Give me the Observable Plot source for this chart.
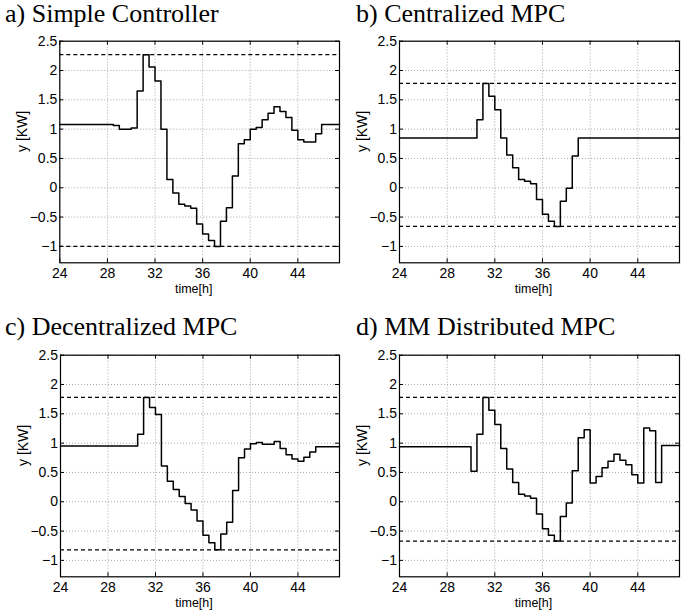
<!DOCTYPE html>
<html><head><meta charset="utf-8">
<script src="https://cdn.jsdelivr.net/npm/d3@7"></script>
<script src="https://cdn.jsdelivr.net/npm/@observablehq/plot@0.6"></script>
<style>
body{margin:0;background:#fff;}
#root{position:relative;width:697px;height:616px;overflow:hidden;background:#fff;}
.ttl{position:absolute;font-family:'Liberation Serif','Times New Roman',Times,'DejaVu Serif',serif;font-size:26px;line-height:30px;white-space:nowrap;color:#000;}
.panel{position:absolute;}
.panel svg{background:transparent !important;}
</style></head><body><div id="root"></div>
<script>
const xTicks = [24, 28, 32, 36, 40, 44];
const yTicks = [-1, -0.5, 0, 0.5, 1, 1.5, 2, 2.5];
const titles = ["a) Simple Controller", "b) Centralized MPC", "c) Decentralized MPC", "d) MM Distributed MPC"];

const tA = [24, 28.5, 29, 30, 30.5, 31, 31.5, 32, 32.5, 33, 33.5, 34, 34.5, 35, 35.5, 36, 36.5, 37, 37.5, 38, 38.5, 39, 39.5, 40, 40.5, 41, 41.5, 42, 42.5, 43, 43.5, 44, 44.5, 45.5, 46, 47.5];
const yA = [1.08, 1.06, 1.0, 1.02, 1.65, 2.27, 2.06, 1.82, 1.0, 0.14, -0.09, -0.28, -0.31, -0.35, -0.62, -0.79, -0.9, -1.0, -0.57, -0.34, 0.2, 0.75, 0.82, 1.0, 1.03, 1.16, 1.27, 1.38, 1.3, 1.2, 0.98, 0.82, 0.78, 0.92, 1.08, 1.08];
const limA = [2.27, -1.0];

const tB = [24, 30.5, 31, 31.5, 32, 32.5, 33, 33.5, 34, 34.5, 35, 35.5, 36, 36.5, 37, 37.5, 38, 38.5, 39, 47.5];
const yB = [0.85, 1.16, 1.78, 1.56, 1.33, 0.85, 0.56, 0.34, 0.14, 0.11, 0.07, -0.2, -0.45, -0.57, -0.66, -0.23, -0.01, 0.54, 0.85, 0.85];
const limB = [1.78, -0.66];

const tC = [24, 30.5, 31, 31.5, 32, 32.5, 33, 33.5, 34, 34.5, 35, 35.5, 36, 36.5, 37, 37.5, 38, 38.5, 39, 39.5, 40, 40.5, 41, 42, 42.5, 43, 43.5, 44, 44.5, 45, 45.5, 47.5];
const yC = [0.95, 1.15, 1.78, 1.61, 1.49, 0.61, 0.35, 0.21, 0.09, -0.03, -0.14, -0.33, -0.57, -0.7, -0.82, -0.55, -0.35, 0.19, 0.75, 0.9, 0.99, 1.01, 0.98, 1.03, 0.91, 0.8, 0.73, 0.69, 0.76, 0.85, 0.94, 0.94];
const limC = [1.78, -0.82];

const tD = [24, 30, 30.5, 31, 31.5, 32, 32.5, 33, 33.5, 34, 34.5, 35, 35.5, 36, 36.5, 37, 37.5, 38, 38.5, 39, 39.5, 40, 40.5, 41, 41.5, 42, 42.5, 43, 43.5, 44, 44.5, 45, 45.5, 46, 47.5];
const yD = [0.94, 0.52, 1.15, 1.78, 1.56, 1.32, 0.91, 0.56, 0.33, 0.13, 0.10, 0.06, -0.21, -0.46, -0.57, -0.67, -0.25, -0.02, 0.53, 1.09, 1.23, 0.32, 0.43, 0.58, 0.69, 0.81, 0.71, 0.63, 0.46, 0.32, 1.26, 1.21, 0.33, 0.96, 0.96];
const limD = [1.78, -0.67];

const xDomain = [24, 47.5];
const yDomain = [-1.28, 2.5];

const series = [[tA, yA, limA], [tB, yB, limB], [tC, yC, limC], [tD, yD, limD]];
const layout = [
  {tx: 5, ty: 1, left: 0, top: 30, ml: 59.3},
  {tx: 356, ty: 1, left: 340, top: 30, ml: 59},
  {tx: 5, ty: 314, left: 0, top: 344.3, ml: 60},
  {tx: 356, ty: 314, left: 340, top: 344.3, ml: 59}
];

const root = document.getElementById("root");
const W = 350, MT = 10.7, MB = 40, MR = 11, PH = 221.6;
const H = MT + PH + MB;

series.forEach(([t, y, lim], i) => {
  const L = layout[i];
  const data = t.map((d, k) => ({t: d, y: y[k]}));
  const PW = W - L.ml - MR;
  const title = document.createElement("div");
  title.className = "ttl";
  title.style.left = L.tx + "px";
  title.style.top = (L.ty - 2) + "px";
  title.textContent = titles[i];
  root.appendChild(title);

  const chart = Plot.plot({
    width: W, height: H,
    marginLeft: L.ml, marginRight: MR, marginTop: MT, marginBottom: MB,
    style: {fontFamily: "'Liberation Sans', Arial, Helvetica, sans-serif", fontSize: "14px", background: "transparent", color: "black"},
    x: {domain: xDomain},
    y: {domain: yDomain},
    marks: [
      Plot.gridX(xTicks, {stroke: "#a8a8a8", strokeOpacity: 1, strokeDasharray: "1,2"}),
      Plot.gridY(yTicks, {stroke: "#a8a8a8", strokeOpacity: 1, strokeDasharray: "1,2"}),
      Plot.ruleY(lim, {stroke: "black", strokeWidth: 1.2, strokeDasharray: "4,3"}),
      Plot.line(data, {x: "t", y: "y", curve: "step-after", stroke: "black", strokeWidth: 1.5}),
      Plot.tickX(xTicks, {x: d => d, insetTop: PH - 4, stroke: "black"}),
      Plot.tickX(xTicks, {x: d => d, insetBottom: PH - 4, stroke: "black"}),
      Plot.tickY(yTicks, {y: d => d, insetRight: PW - 4, stroke: "black"}),
      Plot.tickY(yTicks, {y: d => d, insetLeft: PW - 4, stroke: "black"}),
      Plot.axisX({ticks: xTicks, tickSize: 0, tickPadding: 5, label: null, tickFormat: d3.format("~g"), fontSize: 14}),
      Plot.axisY({ticks: yTicks, tickSize: 0, tickPadding: 2.5, label: null, tickFormat: d3.format("~g"), fontSize: 14}),
      Plot.text([0], {frameAnchor: "bottom", text: () => "time[h]", dy: 30.5, dx: -6, fontSize: 12.5, fill: "black"}),
      Plot.text([0], {frameAnchor: "left", text: () => "y [KW]", rotate: -90, dx: -37, fontSize: 14, fill: "black"}),
      Plot.frame({stroke: "black", strokeWidth: 1.2})
    ]
  });
  const wrap = document.createElement("div");
  wrap.className = "panel";
  wrap.style.left = L.left + "px";
  wrap.style.top = L.top + "px";
  wrap.appendChild(chart);
  root.appendChild(wrap);
});
</script>
</body></html>
